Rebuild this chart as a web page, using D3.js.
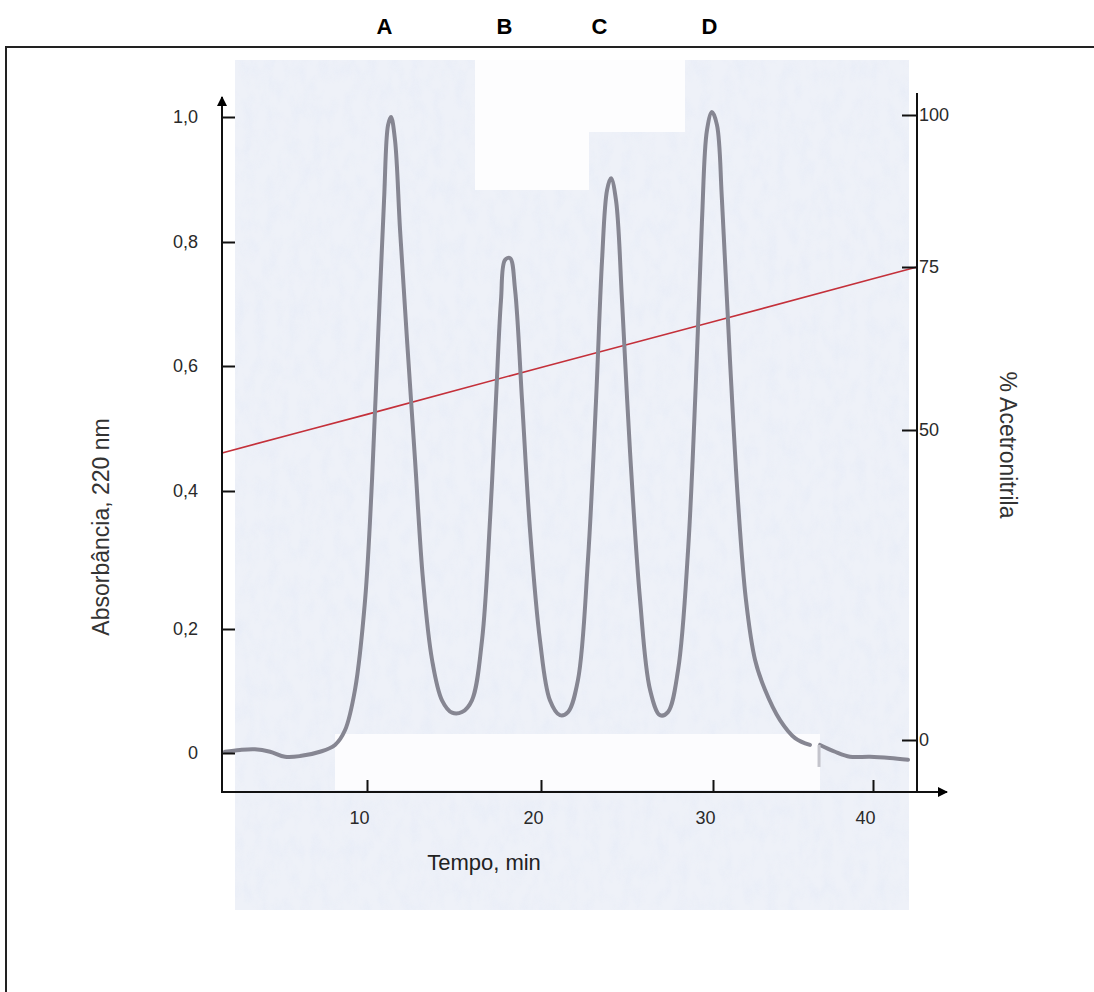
<!DOCTYPE html>
<html>
<head>
<meta charset="utf-8">
<script src="https://cdn.jsdelivr.net/npm/d3@7"></script>
<style>
  body { margin: 0; background: #fff; }
  svg { display: block; font-family: "Liberation Sans", Arial, sans-serif; }
</style>
</head>
<body>
<div id="chart"></div>
<script>
// peaks and tick values
var peakNames = ["A", "B", "C", "D"];
var peakTimes = [11.0, 17.9, 23.4, 29.8];

var timeTicks = [10, 20, 30, 40];
var absTicks = [0, 0.2, 0.4, 0.6, 0.8, 1.0];
var acnTicks = [0, 50, 75, 100];

// absorbance trace, minutes vs A220 (first part, up to the break at ~36.5 min)
var traceTime = [1.84, 2.70, 3.56, 4.43, 5.29, 6.15, 7.30, 8.16, 8.74, 9.31, 9.89,
  10.29, 10.63, 10.98, 11.21, 11.38, 11.61, 11.90, 12.30, 12.76, 13.22, 13.74, 14.31,
  14.89, 15.46, 16.03, 16.61, 17.07, 17.41, 17.70, 17.93, 18.22, 18.51, 18.91, 19.37,
  19.94, 20.52, 21.10, 21.57, 22.15, 22.73, 23.20, 23.55, 23.84, 24.07, 24.36, 24.71,
  25.17, 25.76, 26.34, 26.92, 27.38, 27.97, 28.55, 29.01, 29.36, 29.65, 29.94, 30.25,
  30.56, 31.06, 31.56, 32.06, 32.63, 33.25, 34.19, 35.13, 36.06];
var traceAbs = [0.002, 0.005, 0.006, 0.002, -0.006, -0.005, 0.002, 0.013, 0.037, 0.102, 0.242,
  0.418, 0.642, 0.867, 0.987, 1.0, 0.963, 0.819, 0.642, 0.45, 0.271, 0.15, 0.085,
  0.065, 0.066, 0.085, 0.182, 0.358, 0.545, 0.706, 0.771, 0.774, 0.723, 0.545, 0.343,
  0.182, 0.085, 0.061, 0.066, 0.118, 0.3, 0.545, 0.771, 0.883, 0.902, 0.867, 0.706,
  0.466, 0.242, 0.102, 0.061, 0.066, 0.134, 0.314, 0.578, 0.835, 0.979, 1.008, 0.987,
  0.867, 0.61, 0.386, 0.242, 0.15, 0.102, 0.053, 0.024, 0.013];

// trace after the break
var tailTime = [36.69, 37.63, 38.56, 39.81, 41.06, 42.19];
var tailAbs = [0.013, 0.002, -0.006, -0.006, -0.008, -0.011];

// acetonitrile gradient (red line)
var gradTime = [1.67, 6.61, 10, 20, 30, 40, 42.75];
var gradAcn = [46.3, 50, 52.4, 59.6, 66.6, 73.2, 75];

var W = 1094, H = 992;

var svg = d3.select("#chart")
  .append("svg")
    .attr("width", W)
    .attr("height", H);

var defs = svg.append("defs");
defs.append("marker")
    .attr("id", "arrow")
    .attr("viewBox", "0 0 10 10")
    .attr("refX", 9)
    .attr("refY", 5)
    .attr("markerUnits", "userSpaceOnUse")
    .attr("markerWidth", 12)
    .attr("markerHeight", 10)
    .attr("orient", "auto")
  .append("path")
    .attr("d", "M0,0 L10,5 L0,10 z")
    .attr("fill", "#000");

// paper grain
var f = defs.append("filter").attr("id", "grain")
  .attr("x", 0).attr("y", 0).attr("width", 1).attr("height", 1);
f.append("feTurbulence")
  .attr("type", "fractalNoise")
  .attr("baseFrequency", "0.09 0.05")
  .attr("numOctaves", 3)
  .attr("seed", 4);
f.append("feColorMatrix")
  .attr("type", "matrix")
  .attr("values", "0 0 0 0 0.80  0 0 0 0 0.84  0 0 0 0 0.93  0 0 0 1.6 -0.62");

// scales: the printed axes are slightly uneven, so map every tick
var x = d3.scaleLinear().domain(timeTicks).range([367, 541, 713, 873]);
var y = d3.scaleLinear().domain(absTicks).range([753, 629, 491, 366, 242, 117]);
var yR = d3.scaleLinear().domain(acnTicks).range([740, 430, 267, 115]);

// frame
svg.append("path")
  .attr("d", "M6," + H + " L6,47 L" + W + ",47")
  .attr("fill", "none")
  .attr("stroke", "#222")
  .attr("stroke-width", 2);

// scanned paper
var paper = svg.append("g");
paper.append("rect")
  .attr("x", 235).attr("y", 60).attr("width", 674).attr("height", 850)
  .attr("fill", "#eef1f8");
paper.append("rect")
  .attr("x", 235).attr("y", 60).attr("width", 674).attr("height", 850)
  .attr("filter", "url(#grain)")
  .attr("opacity", 0.8);
paper.append("rect")
  .attr("x", 475).attr("y", 60).attr("width", 114).attr("height", 130)
  .attr("fill", "#fdfdfe");
paper.append("rect")
  .attr("x", 589).attr("y", 60).attr("width", 96).attr("height", 72)
  .attr("fill", "#fdfdfe");
paper.append("rect")
  .attr("x", 335).attr("y", 734).attr("width", 485).attr("height", 56)
  .attr("fill", "#fcfcfe");

// peak letters
svg.selectAll(".peak-name")
  .data(peakNames)
  .enter()
  .append("text")
    .attr("class", "peak-name")
    .attr("x", function(d, i) { return x(peakTimes[i]); })
    .attr("y", 34)
    .attr("text-anchor", "middle")
    .style("font-size", "22px")
    .style("font-weight", "bold")
    .style("fill", "#000")
    .text(function(d) { return d; });

// gradient line
var gradData = gradTime.map(function(t, i) { return [t, gradAcn[i]]; });
svg.append("path")
  .datum(gradData)
  .attr("fill", "none")
  .attr("stroke", "#c4303a")
  .attr("stroke-width", 1.6)
  .attr("d", d3.line()
    .x(function(d) { return x(d[0]); })
    .y(function(d) { return yR(d[1]); }));

// absorbance trace
var line = d3.line()
  .curve(d3.curveCatmullRom.alpha(0.5))
  .x(function(d) { return x(d[0]); })
  .y(function(d) { return y(d[1]); });

var trace = traceTime.map(function(t, i) { return [t, traceAbs[i]]; });
var tail = tailTime.map(function(t, i) { return [t, tailAbs[i]]; });

svg.selectAll(".trace")
  .data([trace, tail])
  .enter()
  .append("path")
    .attr("class", "trace")
    .attr("d", line)
    .attr("fill", "none")
    .attr("stroke", "#868692")
    .attr("stroke-width", 4)
    .attr("stroke-linejoin", "round")
    .attr("stroke-linecap", "round");

// little pen mark at the break
svg.append("line")
  .attr("x1", x(tailTime[0]) - 1).attr("x2", x(tailTime[0]) - 1)
  .attr("y1", y(tailAbs[0])).attr("y2", y(tailAbs[0]) + 22)
  .attr("stroke", "#c4c4cc")
  .attr("stroke-width", 3);

// axes
var axisColor = "#111";

var xAxis = svg.append("g")
  .attr("transform", "translate(0,792)")
  .call(d3.axisBottom(x).tickValues(timeTicks).tickSizeInner(-12).tickSizeOuter(0).tickPadding(19));
xAxis.select(".domain").remove();
xAxis.selectAll("text").attr("dx", "-0.45em");

var yAxis = svg.append("g")
  .attr("transform", "translate(222,0)")
  .call(d3.axisLeft(y).tickValues(absTicks).tickSizeInner(-13).tickSizeOuter(0).tickPadding(24)
    .tickFormat(function(d) { return d === 0 ? "0" : d3.format(".1f")(d).replace(".", ","); }));
yAxis.select(".domain").remove();

var yAxisR = svg.append("g")
  .attr("transform", "translate(917,0)")
  .call(d3.axisRight(yR).tickValues(acnTicks).tickSizeInner(-15).tickSizeOuter(0).tickPadding(2));
yAxisR.select(".domain").remove();

svg.selectAll(".tick line").attr("stroke", axisColor).attr("stroke-width", 2);
svg.selectAll(".tick text")
  .style("font-size", "18px")
  .style("font-family", "'Liberation Sans', Arial, sans-serif")
  .attr("fill", "#2a2a2a");

svg.append("line")
  .attr("x1", 222).attr("y1", 792).attr("x2", 222).attr("y2", 97)
  .attr("stroke", axisColor).attr("stroke-width", 2)
  .attr("marker-end", "url(#arrow)");
svg.append("line")
  .attr("x1", 221).attr("y1", 792).attr("x2", 947).attr("y2", 792)
  .attr("stroke", axisColor).attr("stroke-width", 2)
  .attr("marker-end", "url(#arrow)");
svg.append("line")
  .attr("x1", 917).attr("y1", 792).attr("x2", 917).attr("y2", 93)
  .attr("stroke", axisColor).attr("stroke-width", 2);

// axis titles
svg.append("text")
  .attr("transform", "translate(101,527) rotate(-90)")
  .attr("text-anchor", "middle")
  .attr("dominant-baseline", "central")
  .style("font-size", "23px")
  .style("fill", "#333")
  .text("Absorbância, 220 nm");

svg.append("text")
  .attr("transform", "translate(1008,445) rotate(90)")
  .attr("text-anchor", "middle")
  .attr("dominant-baseline", "central")
  .style("font-size", "23px")
  .style("fill", "#333")
  .text("% Acetronitrila");

svg.append("text")
  .attr("x", 484)
  .attr("y", 862)
  .attr("text-anchor", "middle")
  .attr("dominant-baseline", "central")
  .style("font-size", "22px")
  .style("fill", "#222")
  .text("Tempo, min");
</script>
</body>
</html>
